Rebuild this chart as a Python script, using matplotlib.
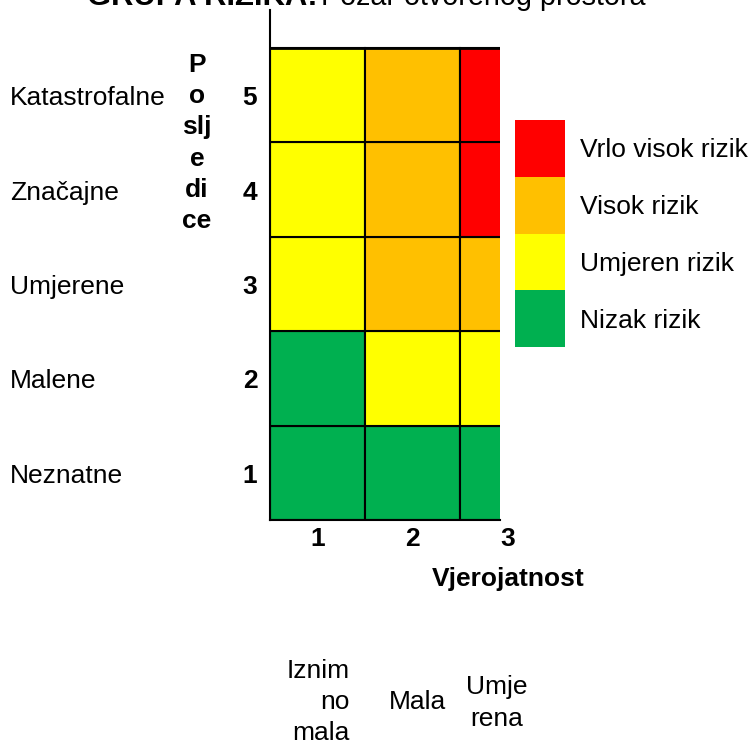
import matplotlib
matplotlib.use("Agg")
import matplotlib.pyplot as plt
from matplotlib.patches import Rectangle
from matplotlib.transforms import blended_transform_factory

plt.rcParams["font.family"] = ["Liberation Sans", "DejaVu Sans"]

# risk matrix: rows = consequence 1..5, cols = probability 1..3
consequence_labels = ["Neznatne", "Malene", "Umjerene", "Značajne", "Katastrofalne"]
probability_labels = ["Iznim\nno\nmala", "Mala", "Umje\nrena"]
risk_grid = [
    ["G", "G", "G"],   # 1
    ["G", "Y", "Y"],   # 2
    ["Y", "O", "O"],   # 3
    ["Y", "O", "R"],   # 4
    ["Y", "O", "R"],   # 5
]
risk_colors = {"R": "#FF0000", "O": "#FFC000", "Y": "#FFFF00", "G": "#00B050"}
legend_keys = ["R", "O", "Y", "G"]
legend_labels = ["Vrlo visok rizik", "Visok rizik", "Umjeren rizik", "Nizak rizik"]

W, H = 751, 745
fig = plt.figure(figsize=(W / 100, H / 100), dpi=100)

# main grid axes (pixels: x 270..500, y 10..520)
ax = fig.add_axes([270 / W, 1 - 520 / H, 230 / W, 510 / H])
ax.set_xlim(0.5, 0.5 + 230 / 95)
ax.set_ylim(0.5, 0.5 + 510 / 94.4)
for r, row in enumerate(risk_grid):
    for c, key in enumerate(row):
        ax.add_patch(Rectangle((c + 0.5, r + 0.5), 1, 1, facecolor=risk_colors[key],
                               edgecolor="black", linewidth=1.5))
ax.plot([0.5, 4], [5.5, 5.5], color="black", lw=2)
for s in ["top", "right"]:
    ax.spines[s].set_visible(False)
for s in ["left", "bottom"]:
    ax.spines[s].set_linewidth(1.5)
ax.set_xticks([])
ax.set_yticks([])

fs = 19
ls = 1.38
dy = 3 / 94.4  # nudge labels down a little
# y tick numbers and category names
ytr = blended_transform_factory(fig.transFigure, ax.transData)
for i, name in enumerate(consequence_labels):
    ax.text(250 / W, i + 1 - dy, str(i + 1), transform=ytr, ha="center", va="center",
            fontsize=fs, fontweight="bold")
    ax.text(10 / W, i + 1 - dy, name, transform=ytr, ha="left", va="center", fontsize=fs)

fig.text(197 / W, 1 - 143 / H, "P\no\nslj\ne\ndi\nce", ha="center", va="center",
         fontsize=fs, fontweight="bold", linespacing=ls)

# x tick numbers
xtr = blended_transform_factory(ax.transData, fig.transFigure)
for j in range(len(probability_labels)):
    ax.text(j + 1, 1 - 539 / H, str(j + 1), transform=xtr, ha="center", va="center",
            fontsize=fs, fontweight="bold", clip_on=False)
fig.text(508 / W, 1 - 579 / H, "Vjerojatnost", ha="center", va="center",
         fontsize=fs, fontweight="bold")

# probability names below
fig.text(350 / W, 1 - 702 / H, probability_labels[0], ha="right", va="center",
         multialignment="right", fontsize=fs, linespacing=ls)
fig.text(417 / W, 1 - 702 / H, probability_labels[1], ha="center", va="center",
         fontsize=fs)
fig.text(497 / W, 1 - 703 / H, probability_labels[2], ha="center", va="center",
         multialignment="center", fontsize=fs, linespacing=ls)

# legend
lax = fig.add_axes([515 / W, 1 - 347 / H, 50 / W, 227 / H])
lax.set_xlim(0, 1)
lax.set_ylim(0, len(legend_keys))
for k, key in enumerate(legend_keys):
    y = len(legend_keys) - 1 - k
    lax.add_patch(Rectangle((0, y), 1, 1, facecolor=risk_colors[key], edgecolor="none"))
    lax.text(1 + 15 / 50, y + 0.5 - 2 / 57, legend_labels[k], ha="left", va="center",
             fontsize=fs, clip_on=False)
lax.axis("off")

# title (clipped at the top of the canvas, as in the source)
fig.text(318 / W, 1 - 5 / H, "GRUPA RIZIKA:", ha="right", va="baseline",
         fontsize=22.3, fontweight="bold")
fig.text(321 / W, 1 - 5 / H, "Požar otvorenog prostora", ha="left", va="baseline",
         fontsize=20.7)

fig.savefig("out.png", dpi=100)
